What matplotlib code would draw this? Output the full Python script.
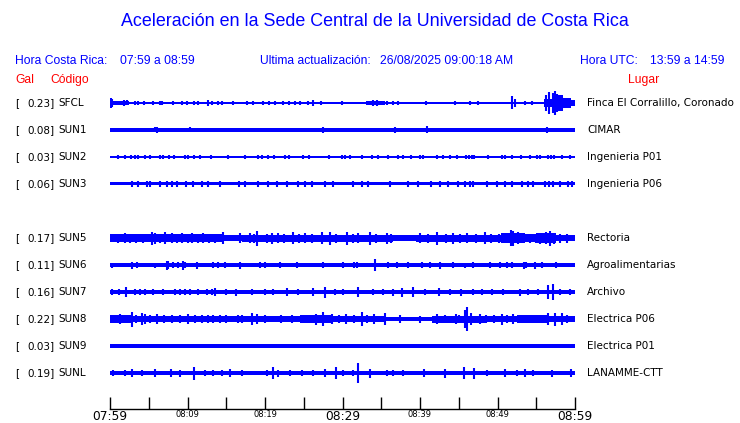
import numpy as np
import matplotlib
matplotlib.use("Agg")
import matplotlib.pyplot as plt

# station info
codes = ["SFCL", "SUN1", "SUN2", "SUN3", "SUN5", "SUN6", "SUN7", "SUN8", "SUN9", "SUNL"]
gal = [0.23, 0.08, 0.03, 0.06, 0.17, 0.11, 0.16, 0.22, 0.03, 0.19]
lugar = ["Finca El Corralillo, Coronado", "CIMAR", "Ingenieria P01", "Ingenieria P06",
         "Rectoria", "Agroalimentarias", "Archivo", "Electrica P06", "Electrica P01",
         "LANAMME-CTT"]
slot = [0, 1, 2, 3, 5, 6, 7, 8, 9, 10]   # row 4 is empty

# band half width of each trace (px)
base = [0.7, 1.6, 0.7, 1.5, 3.4, 1.9, 1.8, 3.2, 1.7, 2.0]
# traces whose band changes: (start min, end min, half width), covering 0-60
bands = {
    "SFCL": [(0, 2.5, 1.8), (2.5, 33, 0.7), (33, 35.5, 2.0), (35.5, 49.5, 0.7),
             (49.5, 56, 1.4), (56, 57, 4), (57, 58.5, 8), (58.5, 59.5, 5), (59.5, 60, 2.5)],
    "SUN5": [(0, 14.5, 3.6), (14.5, 17, 2.6), (17, 36.5, 3.5), (36.5, 39.5, 3.0),
             (39.5, 50.5, 3.5), (50.5, 53.5, 4.7), (53.5, 55, 3.6), (55, 57.5, 4.7),
             (57.5, 60, 3.4)],
    "SUN8": [(0, 3, 3.8), (3, 18.5, 3.2), (18.5, 24.5, 2.6), (24.5, 28.5, 3.6),
             (28.5, 35.5, 3.2), (35.5, 41.5, 2.1), (41.5, 48.5, 3.5), (48.5, 52.5, 3.2),
             (52.5, 56.5, 3.8), (56.5, 60, 3.2)],
}

# peaks: (minute after 07:59, half height px)
spikes = {
    "SFCL": [(0.1, 5), (0.3, 4), (1.8, 2.8), (2.2, 2.5), (3.2, 2), (3.6, 2), (4.4, 2),
             (5.6, 2), (6.5, 2), (6.7, 2), (8.1, 1.8), (9.3, 2), (9.9, 1.8), (10.8, 2),
             (11.4, 2), (12.6, 3), (13.1, 2), (13.9, 1.8), (14.4, 1.8), (15.9, 1.8),
             (17.7, 2), (18.4, 1.8), (19.7, 2), (20.5, 2), (21.3, 1.8), (22.3, 1.8),
             (23.1, 2), (23.9, 1.8), (24.5, 1.8), (25.6, 1.8), (26.2, 3), (27.2, 2),
             (29.9, 1.8), (33.9, 3.2), (34.5, 2.8), (35.7, 2), (36.5, 1.8), (37.1, 1.8),
             (40.8, 1.6), (44.5, 1.6), (46.5, 1.6), (47.5, 1.6), (51.9, 6.5), (52.3, 4),
             (53.6, 2.2), (54.5, 2), (56.3, 8), (56.7, 11), (57.1, 10), (57.4, 12), (57.7, 9),
             (58.0, 8), (58.3, 6), (58.7, 5), (59.2, 3.5), (59.6, 3), (59.9, 2.5)],
    "SUN1": [(1.5, 2.2), (4.6, 2.2), (5.8, 2.5), (6.1, 3), (6.5, 2.2), (6.6, 2.2), (10.3, 2.5),
             (14.8, 2.2), (19.2, 2.2), (23.0, 2.2), (27.5, 3), (31.8, 2.2), (36.8, 3),
             (40.9, 3.5), (45.0, 2.2), (49.3, 2.4), (50.6, 2.4), (53.2, 2.4), (56.4, 3)],
    "SUN2": [(1.0, 1.8), (1.9, 1.8), (2.7, 2.2), (3.2, 2.2), (3.6, 1.8), (4.5, 2), (5.2, 1.8),
             (6.5, 2.2), (6.8, 2.2), (7.6, 1.8), (8.3, 1.8), (9.7, 2.2), (10.1, 2.2), (10.8, 1.8),
             (11.6, 1.8), (13.0, 1.8), (15.2, 1.7), (17.4, 1.8), (19.1, 1.8), (19.6, 1.8),
             (20.4, 1.8), (21.2, 1.8), (22.6, 1.8), (23.1, 1.8), (24.9, 1.8), (25.7, 1.8),
             (28.3, 1.8), (29.9, 1.7), (30.3, 1.8), (31.0, 1.8), (32.5, 2), (33.8, 2),
             (34.6, 2), (35.9, 2), (37.2, 1.8), (37.8, 1.8), (38.8, 2), (40.0, 2.2),
             (40.4, 2.2), (42.2, 2), (43.0, 1.8), (43.9, 2), (44.8, 2), (45.9, 2.2),
             (46.3, 2.2), (46.7, 2.2), (47.0, 2.2), (48.8, 2), (50.6, 2), (51.0, 1.8),
             (51.9, 2), (53.0, 2), (54.2, 2.2), (55.1, 2), (55.5, 2), (56.5, 2.2),
             (56.9, 2.2), (57.3, 2.2), (58.3, 2), (59.4, 2)],
    "SUN3": [(2.8, 3.3), (3.6, 2.7), (4.8, 2.9), (5.2, 2.9), (6.5, 2.7), (7.4, 2.7), (8.0, 2.9),
             (8.6, 2.7), (9.8, 2.8), (10.7, 2.7), (11.9, 2.7), (12.6, 2.8), (14.2, 2.8),
             (16.7, 3), (17.4, 3.3), (19.1, 2.7), (20.4, 2.7), (21.5, 2.7), (22.8, 2.7),
             (24.3, 2.7), (25.2, 2.7), (26.1, 2.7), (27.7, 2.7), (28.8, 2.7), (31.4, 2.7),
             (32.5, 3.3), (33.3, 2.7), (36.1, 2.8), (38.5, 2.8), (39.7, 2.7), (41.4, 2.8),
             (42.6, 2.7), (43.6, 2.8), (44.9, 2.7), (45.8, 3.3), (46.4, 2.9), (46.8, 2.9),
             (48.6, 2.9), (49.9, 3.1), (51.0, 2.7), (51.9, 2.7), (53.2, 2.7), (53.9, 2.7),
             (54.6, 2.7), (56.1, 2.9), (56.6, 2.9), (57.2, 2.7), (58.1, 2.7), (59.1, 2.7),
             (59.6, 3.3)],
    "SUN5": [(0.4, 4.2), (1.0, 4.5), (1.9, 5.2), (2.6, 4.5), (3.4, 4.5), (4.2, 4.5), (5.4, 6.5),
             (5.8, 5.5), (6.4, 4.5), (7.1, 6), (8.0, 5.2), (8.6, 4.5), (9.3, 5.2), (10.0, 4.5),
             (10.6, 5.2), (11.3, 4.5), (12.0, 4.7), (12.8, 4.5), (13.6, 4.5), (14.6, 6),
             (16.8, 4.7), (18.1, 5.2), (18.6, 4.5), (19.0, 7.5), (20.2, 4.5), (20.9, 5.5),
             (21.7, 5.2), (22.5, 4.5), (23.6, 6), (24.4, 4.5), (25.2, 5.2), (26.0, 4.5),
             (27.4, 6), (28.4, 6.5), (29.2, 4.5), (30.6, 6.5), (31.3, 4.5), (32.0, 5.2),
             (33.5, 6.5), (34.3, 4.5), (35.7, 5.5), (36.2, 4.5), (40.0, 5.2), (41.0, 4.5),
             (42.2, 6.5), (43.3, 4.5), (44.3, 5.5), (45.2, 4.5), (46.0, 5.2), (47.2, 4.5),
             (48.4, 6), (49.2, 4.5), (50.2, 4.5), (51.7, 8), (52.0, 7.5), (52.6, 6),
             (53.3, 4.5), (54.2, 4.5), (55.0, 4.5), (55.5, 5.5), (56.3, 6), (56.8, 7.5),
             (57.3, 5.5), (58.0, 4.5), (59.0, 4.5)],
    "SUN6": [(0.3, 2.5), (2.8, 3.5), (3.5, 3), (5.8, 2.5), (7.3, 4.5), (7.5, 4), (8.1, 3),
             (8.8, 2.7), (9.4, 4.5), (9.7, 3), (11.2, 3.5), (13.3, 3), (13.9, 2.7), (14.8, 2.7),
             (16.8, 3.5), (19.4, 2.7), (20.0, 2.7), (21.9, 2.7), (24.1, 2.7), (27.5, 2.7),
             (30.1, 2.7), (31.5, 2.7), (31.9, 3), (34.2, 6), (35.9, 2.7), (37.0, 2.7),
             (38.5, 2.7), (40.3, 2.7), (41.3, 2.7), (42.6, 3.5), (44.3, 2.7), (45.8, 2.5),
             (46.8, 2.7), (49.0, 2.7), (50.3, 2.7), (51.2, 2.7), (51.9, 2.7), (53.4, 3.5),
             (53.7, 3), (54.8, 3.5), (55.7, 2.7), (57.5, 2.7)],
    "SUN7": [(0.3, 3), (1.2, 2.6), (2.1, 5), (3.2, 3), (3.9, 3), (4.5, 3), (5.5, 3), (6.8, 2.7),
             (8.4, 3), (9.0, 3), (9.7, 3), (10.3, 3), (11.4, 2.6), (12.5, 3), (13.2, 3),
             (13.5, 4), (15.0, 2.6), (16.3, 3.5), (18.3, 3), (20.0, 3), (21.0, 3), (22.8, 4),
             (24.3, 3), (26.2, 4), (27.7, 5.5), (29.0, 3), (30.1, 3), (32.0, 5), (33.9, 3),
             (35.2, 3), (36.5, 3.5), (37.7, 4.5), (39.1, 5), (40.6, 2.6), (42.5, 4), (43.9, 3),
             (45.3, 3.5), (46.8, 3), (48.0, 2.6), (49.3, 3), (50.7, 3), (52.9, 3.5), (53.9, 3),
             (55.2, 2.6), (56.5, 7), (57.2, 8), (58.1, 3), (59.4, 3)],
    "SUN8": [(0.5, 4.2), (1.3, 4.7), (2.0, 4.2), (2.8, 7.5), (3.4, 4.2), (4.1, 6), (4.5, 5),
             (5.2, 4.2), (6.0, 4.7), (7.0, 4.2), (8.0, 4.2), (9.0, 4.2), (10.1, 4.7),
             (11.0, 4.2), (11.9, 4.2), (12.6, 4.2), (13.3, 4.2), (14.2, 4.2), (15.0, 4.2),
             (16.5, 4.2), (17.0, 4.2), (18.3, 6), (19.0, 5), (20.0, 3.7), (22.0, 3.7),
             (23.5, 3.7), (25.5, 4.2), (26.6, 5.5), (27.5, 7), (28.6, 5), (29.5, 4.2),
             (30.5, 4.7), (31.5, 4.2), (32.5, 7), (33.2, 4.2), (34.0, 4.7), (35.5, 6),
             (37.4, 4), (40.0, 3.5), (42.2, 4.7), (43.2, 4.2), (44.6, 4.7), (45.0, 4.2),
             (45.8, 9), (46.1, 12), (46.6, 6), (47.7, 4.7), (48.5, 4.2), (49.5, 4.2),
             (50.6, 5.5), (51.2, 4.2), (52.0, 4.7), (53.0, 4.2), (54.0, 4.2), (55.2, 4.2),
             (56.0, 4.2), (56.5, 6), (57.4, 6.5), (58.3, 6), (59.0, 4.2)],
    "SUN9": [(2.8, 2.4), (10.0, 2.4), (32.5, 2.4), (45.7, 2.4), (50.9, 2.4), (57.2, 2.4)],
    "SUNL": [(0.4, 3), (1.9, 3), (2.8, 4), (4.1, 3), (5.8, 4), (7.9, 4), (9.0, 3.5),
             (10.8, 6.5), (12.3, 3), (13.3, 3), (14.5, 3), (15.5, 4), (17.0, 3), (20.3, 3),
             (21.0, 6), (21.7, 3.5), (23.2, 3), (24.8, 3), (26.2, 3), (27.7, 4), (29.2, 6),
             (30.1, 3), (31.4, 3), (32.0, 10), (33.5, 4.5), (35.7, 3), (36.5, 3), (37.8, 3),
             (40.5, 4), (43.2, 4.5), (45.7, 6), (47.0, 5.5), (48.6, 3), (51.0, 4), (52.5, 3),
             (53.5, 4), (54.6, 3), (57.0, 3.5), (59.5, 4)],
}

tick_min = [0, 5, 10, 15, 20, 25, 30, 35, 40, 45, 50, 55, 60]
tick_lab = ["07:59", "", "08:09", "", "08:19", "", "08:29", "", "08:39", "", "08:49", "", "08:59"]

blue = "#0000ff"
red = "#ff0000"
W, H = 740, 423

fig = plt.figure(figsize=(W / 100, H / 100), dpi=100)
ax = fig.add_axes([110 / W, (H - 409) / H, 465 / W, (409 - 88) / H])
ax.set_xlim(0, 60)
ax.set_ylim(409, 88)


def ftxt(px, py, s, **kw):
    fig.text(px / W, 1 - py / H, s, va="center", **kw)


for i, c in enumerate(codes):
    yc = 103 + 27 * slot[i]
    segs = bands.get(c, [(0, 60, base[i])])
    for a, b, hw in segs:
        ax.barh(yc, b - a, left=a, height=2 * hw, color=blue, lw=0)
    m = [s[0] for s in spikes[c]]
    h = np.array([s[1] for s in spikes[c]])
    ax.vlines(m, yc - h, yc + h, color=blue, lw=1.5)

    ftxt(15, yc, "[", fontsize=7.5)
    ftxt(55, yc, "%.2f]" % gal[i], fontsize=7.5, ha="right")
    ftxt(58, yc, c, fontsize=7.5)
    ftxt(587, yc, lugar[i], fontsize=7.5)

for s in ["top", "left", "right"]:
    ax.spines[s].set_visible(False)
ax.spines["bottom"].set_linewidth(1.0)
ax.set_yticks([])
ax.set_xticks(tick_min)
ax.set_xticklabels(tick_lab)
ax.tick_params(axis="x", direction="in", length=9, width=1.0, pad=1)
for k, t in enumerate(ax.get_xticklabels()):
    t.set_fontsize(8.8 if tick_min[k] % 30 == 0 else 6)

hf = "Liberation Sans"
fig.text(375 / W, 1 - 22 / H, "Aceleración en la Sede Central de la Universidad de Costa Rica",
         ha="center", va="center", color=blue, fontsize=12.9, family=hf)
head = [(15, "Hora Costa Rica:"), (120, "07:59 a 08:59"), (260, "Ultima actualización:"),
        (380, "26/08/2025 09:00:18 AM"), (580, "Hora UTC:"), (650, "13:59 a 14:59")]
for px, s in head:
    ftxt(px, 61, s, color=blue, fontsize=8.7, family=hf)
for px, s in [(15, "Gal"), (50, "Código"), (628, "Lugar")]:
    ftxt(px, 80, s, color=red, fontsize=8.7, family=hf)

fig.savefig("out.png", dpi=100)
